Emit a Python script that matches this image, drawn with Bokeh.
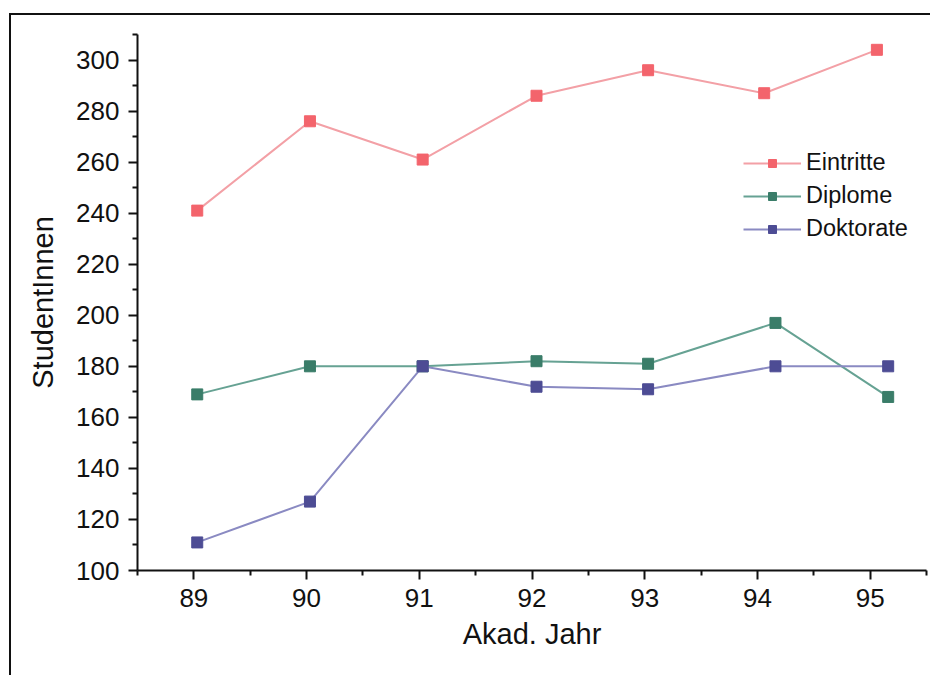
from bokeh.plotting import figure
from bokeh.models import FixedTicker, Range1d, Legend, LegendItem
from bokeh.embed import file_html
from bokeh.resources import INLINE

# Data
years_e = [89.03, 90.03, 91.03, 92.04, 93.03, 94.06, 95.06]
years_dd = [89.03, 90.03, 91.03, 92.04, 93.03, 94.16, 95.16]
eintritte = [241, 276, 261, 286, 296, 287, 304]
diplome = [169, 180, 180, 182, 181, 197, 168]
doktorate = [111, 127, 180, 172, 171, 180, 180]
x_ticks = [89, 90, 91, 92, 93, 94, 95]
y_ticks = [100, 120, 140, 160, 180, 200, 220, 240, 260, 280, 300]

FONT = "Liberation Sans"

p = figure(
    output_backend="svg", toolbar_location=None,
    frame_width=789, frame_height=536,
    min_border_left=126, min_border_right=4, min_border_top=19, min_border_bottom=105,
    x_range=Range1d(88.5, 95.5), y_range=Range1d(100, 310),
)
p.styles = {"border-left": "2px solid #111", "border-top": "2px solid #111",
            "margin-left": "9px", "margin-top": "13px"}
p.outline_line_color = None
p.xgrid.grid_line_color = None
p.ygrid.grid_line_color = None
p.background_fill_color = "white"
p.border_fill_color = "white"

p.xaxis.ticker = FixedTicker(ticks=x_ticks, minor_ticks=[88.5 + i for i in range(8)])
p.yaxis.ticker = FixedTicker(ticks=y_ticks, minor_ticks=[110 + 20 * i for i in range(11)])

for ax in (p.xaxis, p.yaxis):
    ax.axis_line_width = 2
    ax.axis_line_color = "#111"
    ax.major_tick_line_width = 2
    ax.major_tick_line_color = "#111"
    ax.minor_tick_line_width = 2
    ax.minor_tick_line_color = "#111"
    ax.major_tick_in = 0
    ax.minor_tick_in = 0
    ax.major_tick_out = 9
    ax.minor_tick_out = 5
    ax.major_label_text_font = FONT
    ax.major_label_text_font_size = "26px"
    ax.major_label_text_color = "#111"
    ax.axis_label_text_font = FONT
    ax.axis_label_text_font_size = "29px"
    ax.axis_label_text_font_style = "normal"
    ax.axis_label_text_color = "#111"
    ax.major_label_standoff = 9

p.xaxis.axis_label = "Akad. Jahr"
p.yaxis.axis_label = "StudentInnen"
p.xaxis.axis_label_standoff = 8
p.yaxis.axis_label_standoff = 14

series = [
    ("Eintritte", years_e, eintritte, "#f3a0a6", "#f3646c"),
    ("Diplome", years_dd, diplome, "#66a293", "#3a7d69"),
    ("Doktorate", years_dd, doktorate, "#8a8ac2", "#4d4c94"),
]
items = []
for name, xs, ys, lc, mc in series:
    l = p.line(xs, ys, line_color=lc, line_width=2)
    s = p.scatter(xs, ys, marker="square", size=11, fill_color=mc, line_color=mc)
    items.append(LegendItem(label=name, renderers=[l, s]))

legend = Legend(
    items=items, location=(606, 328),
    glyph_width=58, glyph_height=20, label_standoff=5, spacing=6,
    padding=0, margin=0,
    label_text_font=FONT, label_text_font_size="23.5px", label_text_color="#111",
    border_line_alpha=0, background_fill_alpha=0,
)
p.add_layout(legend, "center")

open("out.html", "w").write(file_html(p, INLINE))
